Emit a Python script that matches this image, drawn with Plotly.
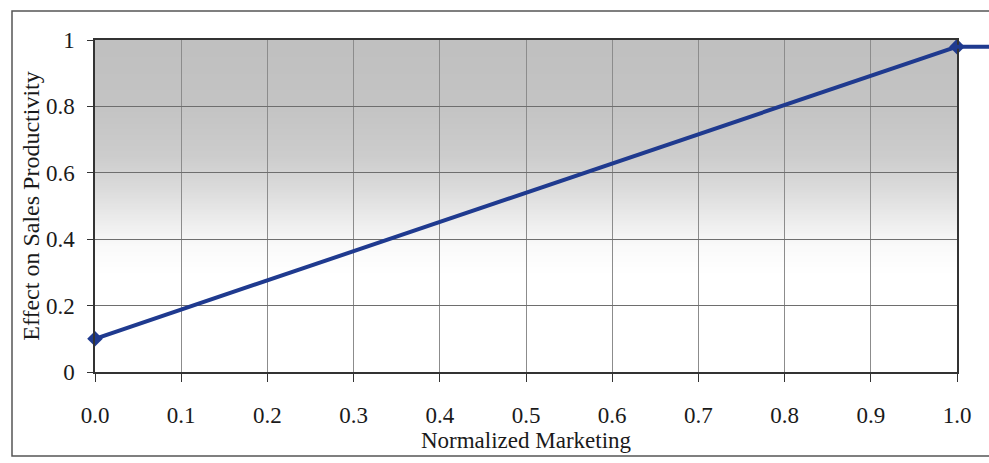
import base64
import struct
import zlib

import numpy as np
import plotly.graph_objects as go

# Effect of normalized marketing on sales productivity
marketing = [0.0, 1.0]
effect = [0.10, 0.98]

# the curve stays flat once marketing passes 1.0
tail_marketing = [1.0, 1.08]
tail_effect = [0.98, 0.98]

x_ticks = [0.0, 0.1, 0.2, 0.3, 0.4, 0.5, 0.6, 0.7, 0.8, 0.9, 1.0]
y_ticks = [0, 0.2, 0.4, 0.6, 0.8, 1]
y_tick_text = ["0", "0.2", "0.4", "0.6", "0.8", "1"]

LINE_BLUE = "#1f3a8f"
FONT = "Liberation Serif"

W, H = 989, 463
L, T, B = 95, 40, 91
PLOT_W = 862
PAPER_W = W - L  # right margin is zero so the tail can run to the edge


def gray_gradient_png(height=300):
    """Vertical gray-to-white gradient as a PNG data URI."""
    v = np.linspace(1.0, 0.0, height)  # top row = y 1.0
    stops_v = [0.0, 0.30, 0.38, 0.45, 0.55, 0.65, 0.80, 1.0]
    stops_g = [255, 255, 250, 238, 220, 205, 196, 192]
    g = np.interp(v, stops_v, stops_g).astype(np.uint8)
    width = 4
    raw = b"".join(b"\x00" + bytes([int(p)]) * width for p in g)

    def chunk(tag, data):
        c = struct.pack(">I", len(data)) + tag + data
        return c + struct.pack(">I", zlib.crc32(tag + data) & 0xFFFFFFFF)

    png = b"\x89PNG\r\n\x1a\n"
    png += chunk(b"IHDR", struct.pack(">IIBBBBB", width, height, 8, 0, 0, 0, 0))
    png += chunk(b"IDAT", zlib.compress(raw, 9))
    png += chunk(b"IEND", b"")
    return "data:image/png;base64," + base64.b64encode(png).decode()


fig = go.Figure()

fig.add_trace(go.Scatter(
    x=marketing, y=effect, mode="lines+markers",
    line=dict(color=LINE_BLUE, width=4),
    marker=dict(symbol="diamond", size=12, color=LINE_BLUE),
    cliponaxis=False, showlegend=False, hoverinfo="skip",
))

fig.add_trace(go.Scatter(
    x=tail_marketing, y=tail_effect, mode="lines",
    line=dict(color=LINE_BLUE, width=4),
    xaxis="x2", yaxis="y2", showlegend=False, hoverinfo="skip",
))

axis_font = dict(family=FONT, size=23, color="#1a1a1a")

fig.update_layout(
    width=W, height=H,
    margin=dict(l=L, r=0, t=T, b=B, pad=0, autoexpand=False),
    paper_bgcolor="white",
    plot_bgcolor="rgba(0,0,0,0)",
    font=axis_font,
    xaxis=dict(
        domain=[0, PLOT_W / PAPER_W],
        range=[0, 1], autorange=False,
        tickvals=x_ticks, tickformat=".1f",
        ticks="outside", ticklen=8, tickcolor="#333", tickwidth=1.2,
        ticklabelstandoff=14,
        showgrid=True, gridcolor="#8c8c8c", gridwidth=1,
        showline=True, linecolor="#333", linewidth=1.5, mirror=True,
        zeroline=False, tickfont=axis_font, automargin=False,
        title=dict(text="Normalized Marketing", font=axis_font, standoff=0),
    ),
    yaxis=dict(
        domain=[0, 1],
        range=[0, 1], autorange=False,
        tickvals=y_ticks, ticktext=y_tick_text,
        ticks="outside", ticklen=6, tickcolor="#333", tickwidth=1.2,
        ticklabelstandoff=8,
        showgrid=True, gridcolor="#6e6e6e", gridwidth=1,
        showline=True, linecolor="#333", linewidth=1.5, mirror=True,
        zeroline=False, tickfont=axis_font, automargin=False,
        title=dict(text="Effect on Sales Productivity",
                   font=dict(family=FONT, size=24, color="#1a1a1a"), standoff=0),
    ),
    xaxis2=dict(domain=[0, 1], range=[0, PAPER_W / PLOT_W], visible=False,
                anchor="y2"),
    yaxis2=dict(domain=[0, 1], range=[0, 1], visible=False, anchor="x2"),
    images=[dict(
        source=gray_gradient_png(), xref="x", yref="y",
        x=0, y=1, sizex=1, sizey=1, sizing="stretch",
        xanchor="left", yanchor="top", layer="below",
    )],
    shapes=[dict(
        type="rect", xref="paper", yref="paper",
        x0=-83 / PAPER_W, x1=1.02,
        y0=-(456 - (H - B)) / (H - T - B), y1=1 + 29 / (H - T - B),
        line=dict(color="#555", width=1.5), fillcolor="rgba(0,0,0,0)",
        layer="below",
    )],
)

fig.write_html("out.html")
